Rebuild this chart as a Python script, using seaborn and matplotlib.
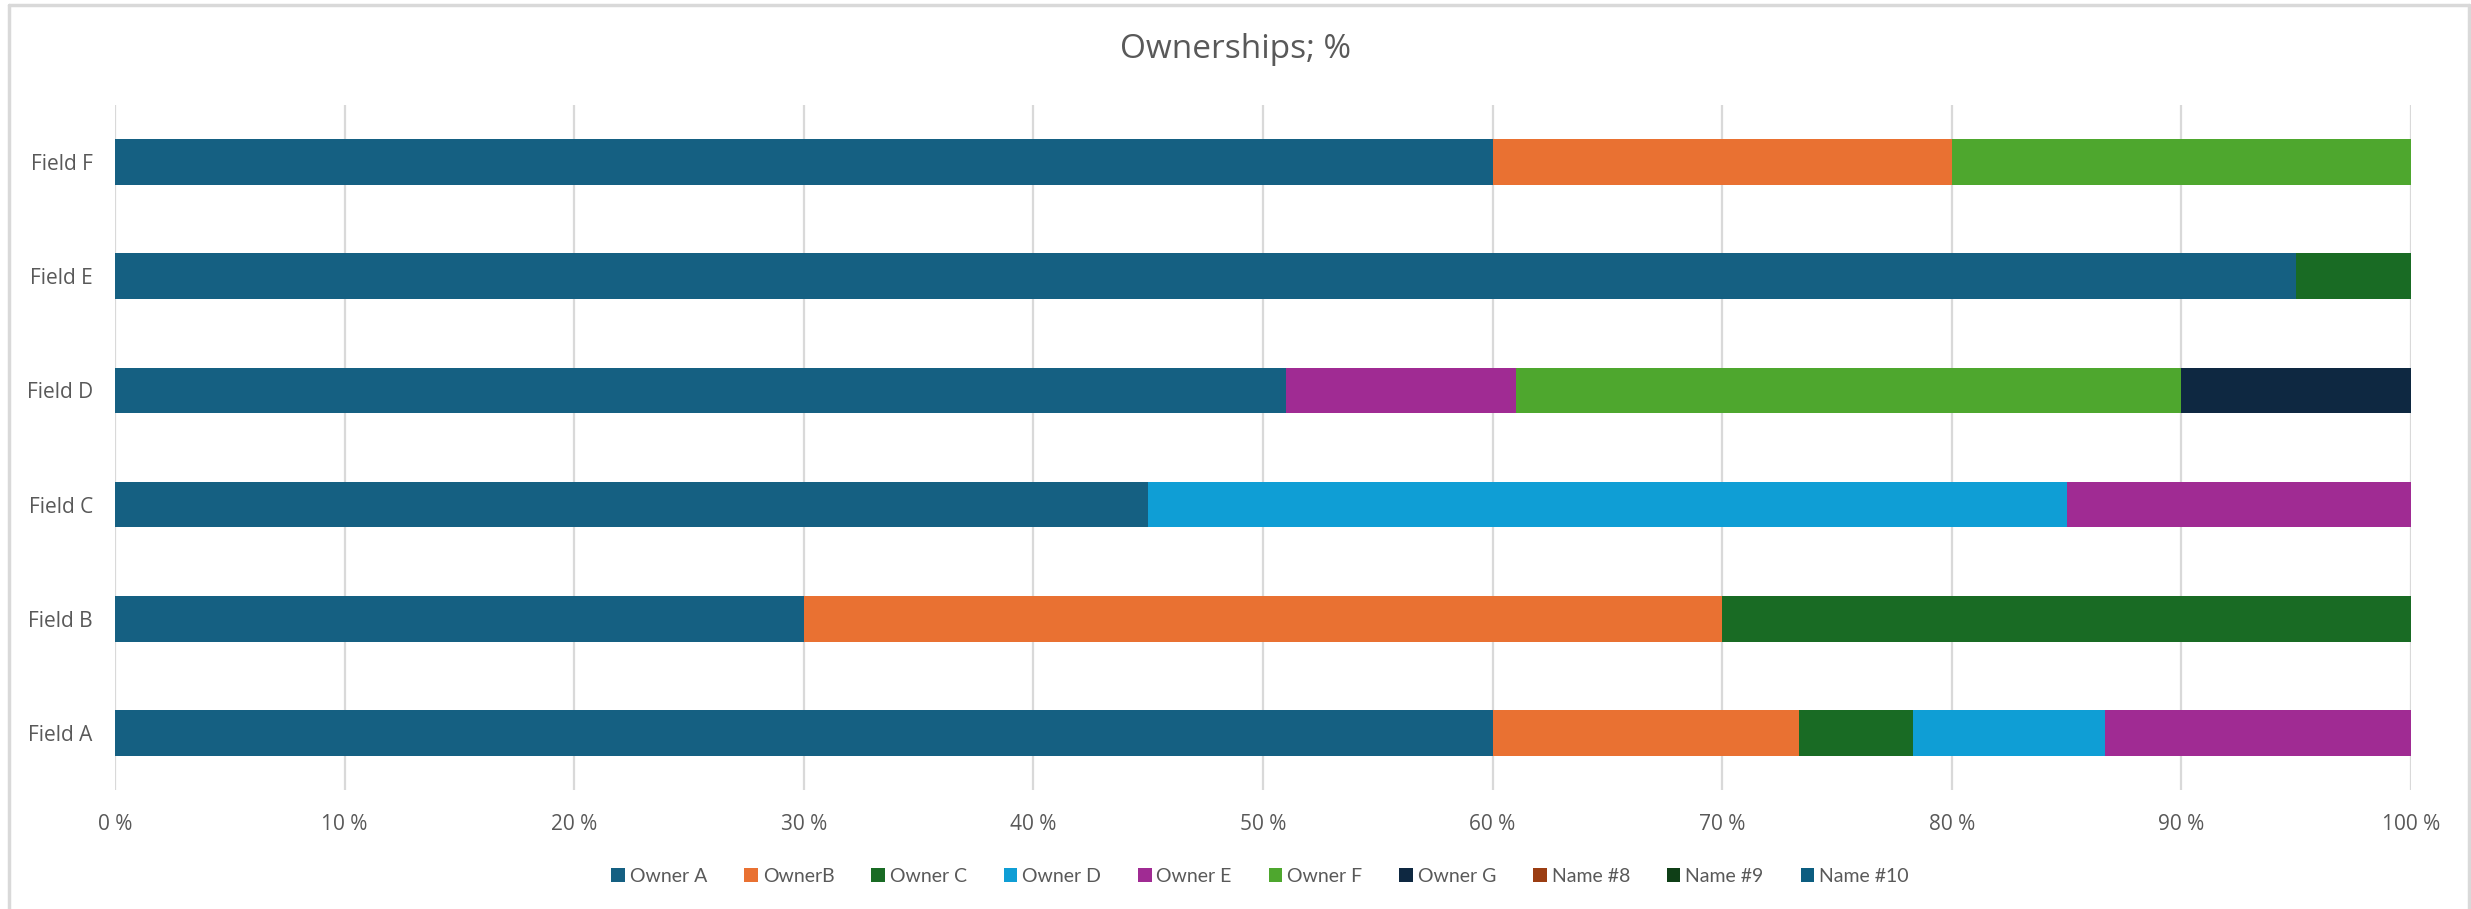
import numpy as np
import pandas as pd
import matplotlib
matplotlib.use("Agg")
import matplotlib.pyplot as plt
from matplotlib.patches import Patch
from matplotlib.lines import Line2D
import seaborn as sns

fields = ["Field A", "Field B", "Field C", "Field D", "Field E", "Field F"]
series = ["Owner A", "OwnerB", "Owner C", "Owner D", "Owner E", "Owner F",
          "Owner G", "Name #8", "Name #9", "Name #10"]
owner_a = [60.0, 30, 45, 51, 95, 60]
owner_b = [13.33, 40, 0, 0, 0, 20]
owner_c = [5.0, 30, 0, 0, 5, 0]
owner_d = [8.34, 0, 40, 0, 0, 0]
owner_e = [13.33, 0, 15, 10, 0, 0]
owner_f = [0, 0, 0, 29, 0, 20]
owner_g = [0, 0, 0, 10, 0, 0]
name_8 = [0, 0, 0, 0, 0, 0]
name_9 = [0, 0, 0, 0, 0, 0]
name_10 = [0, 0, 0, 0, 0, 0]
colors = ["#156082", "#E97132", "#196B24", "#0F9ED5", "#A02B93", "#4EA72E",
          "#0E2841", "#9B3D12", "#0F3F17", "#0C5D80"]
xticks = [0, 10, 20, 30, 40, 50, 60, 70, 80, 90, 100]
xtick_labels = [f"{v} %" for v in xticks]

values = [owner_a, owner_b, owner_c, owner_d, owner_e, owner_f, owner_g,
          name_8, name_9, name_10]

sns.set_theme(style="white")
plt.rcParams["font.family"] = ["Open Sans", "DejaVu Sans"]
text_color = "#595959"

df = pd.DataFrame({s: v for s, v in zip(series, values)}, index=fields)
cum = df.cumsum(axis=1)
order = fields[::-1]

fig = plt.figure(figsize=(24.71, 9.09), dpi=100)
ax = fig.add_axes([115 / 2471, 1 - 790 / 909, (2411 - 115) / 2471, (790 - 105) / 909])

# draw cumulative totals from last series to first so each segment shows
for s, c in reversed(list(zip(series, colors))):
    d = pd.DataFrame({"field": fields, "value": cum[s].values})
    sns.barplot(data=d, x="value", y="field", order=order, color=c,
                width=0.4, linewidth=0, edgecolor="none", saturation=1,
                orient="h", ax=ax, zorder=3)

ax.set_xlim(0, 100)
ax.set_ylim(5.5, -0.5)
ax.set_xticks(xticks)
ax.set_xticklabels(xtick_labels)
ax.set_xlabel("")
ax.set_ylabel("")
for sp in ax.spines.values():
    sp.set_visible(False)
ax.grid(axis="x", color="#D9D9D9", linewidth=1.6, zorder=0)
ax.grid(axis="y", visible=False)
ax.set_axisbelow(True)
ax.tick_params(axis="x", length=0, pad=17, labelsize=15, labelcolor=text_color)
ax.tick_params(axis="y", length=0, pad=16, labelsize=15, labelcolor=text_color)

fig.text(0.5, 1 - 50 / 909, "Ownerships; %", ha="center", va="center",
         fontsize=24, color=text_color)

handles = [Patch(facecolor=c, edgecolor="none", label=s) for s, c in zip(series, colors)]
fig.legend(handles=handles, loc="center", bbox_to_anchor=(1260 / 2471, 1 - 876 / 909),
           ncol=len(series), frameon=False,
           prop={"family": ["Lato", "DejaVu Sans"], "size": 14},
           labelcolor=text_color,
           handlelength=0.7, handleheight=0.7, handletextpad=0.25, columnspacing=1.9)

# outer chart border
border = "#D9D9D9"
fig.add_artist(Line2D([9 / 2471, 9 / 2471], [0, 1 - 5 / 909], color=border, lw=2.5,
                      transform=fig.transFigure))
fig.add_artist(Line2D([2469 / 2471, 2469 / 2471], [0, 1 - 5 / 909], color=border, lw=2.5,
                      transform=fig.transFigure))
fig.add_artist(Line2D([9 / 2471, 2469 / 2471], [1 - 5 / 909, 1 - 5 / 909], color=border,
                      lw=2.5, transform=fig.transFigure))

fig.savefig("out.png", dpi=100, facecolor="white")
